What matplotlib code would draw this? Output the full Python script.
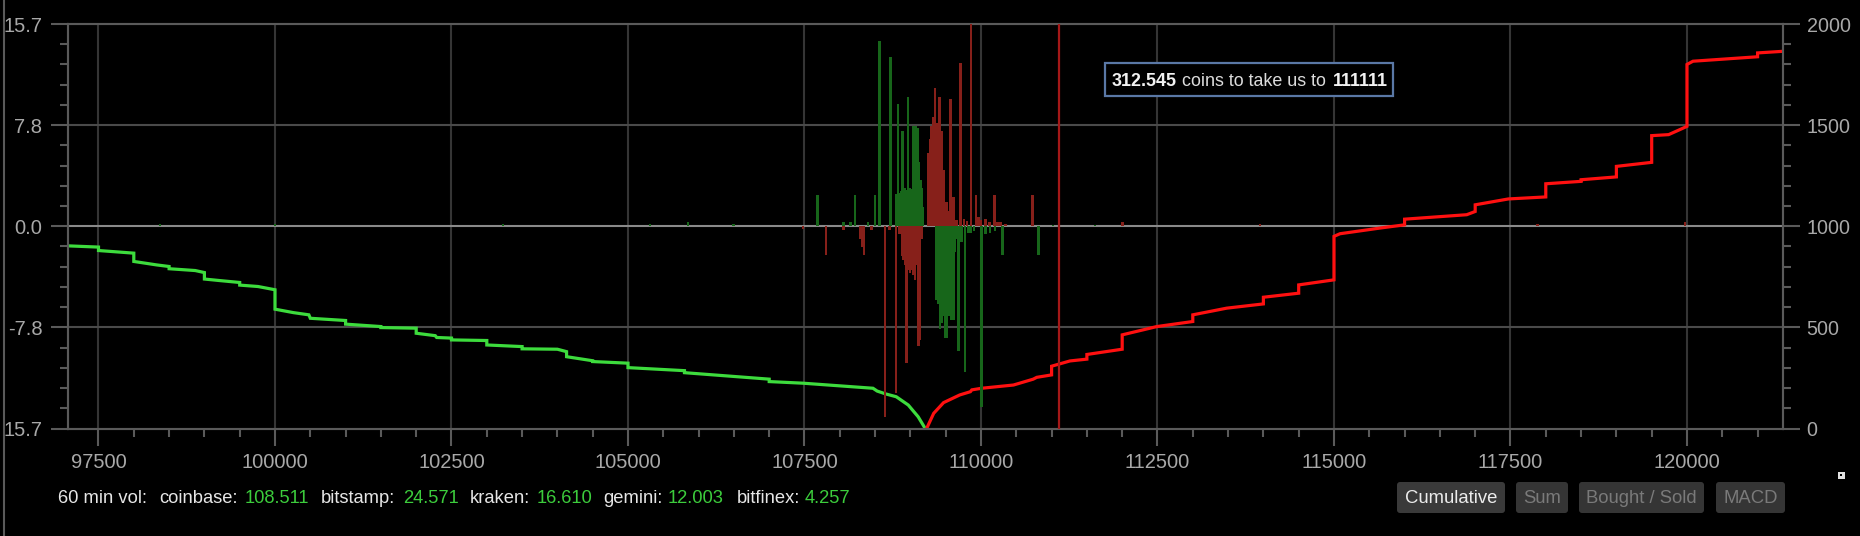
import matplotlib
matplotlib.use("Agg")
import numpy as np
import matplotlib.pyplot as plt
from matplotlib.patches import Rectangle, FancyBboxPatch
from matplotlib.lines import Line2D
from matplotlib.transforms import IdentityTransform

plt.rcParams['font.family'] = ['Liberation Sans', 'DejaVu Sans']

# cumulative order book depth (price, coins)
bid_price = [97070, 97500, 97500, 98000, 98000, 98320, 98500, 98500, 98870, 99000,
             99000, 99200, 99500, 99500, 99760, 100000, 100000, 100260, 100480, 100500,
             101000, 101000, 101500, 101500, 102000, 102000, 102270, 102290, 102500, 102500,
             103000, 103000, 103500, 103500, 104000, 104130, 104130, 104500, 104500, 105000,
             105000, 105800, 105800, 107000, 107000, 107480, 108470, 108530, 108650, 108800,
             108970, 109110, 109210]
bid_cum = [903, 897, 880, 867, 826, 809, 801, 790, 781, 771,
           739, 732, 722, 709, 702, 686, 590, 573, 562, 545,
           534, 516, 504, 499, 496, 471, 459, 450, 447, 438,
           435, 413, 405, 394, 392, 380, 355, 335, 331, 323,
           301, 286, 276, 244, 232, 224, 199, 185, 171, 157,
           116, 58, 0]

ask_price = [109230, 109330, 109470, 109700, 109850, 109870, 110010, 110460, 110740, 110790,
             111000, 111000, 111260, 111500, 111500, 112000, 112000, 112490, 113000, 113000,
             113480, 114000, 114000, 114500, 114500, 115000, 115000, 115085, 115650, 116000,
             116000, 116880, 117000, 117000, 117470, 118000, 118000, 118500, 118500, 119000,
             119000, 119500, 119500, 119740, 119900, 120000, 120000, 120085, 121000, 121000,
             121360]
ask_cum = [0, 75, 128, 166, 182, 191, 199, 215, 244, 253,
           265, 308, 334, 343, 366, 392, 463, 504, 529, 562,
           595, 616, 649, 669, 710, 735, 950, 963, 991, 1007,
           1035, 1057, 1073, 1106, 1135, 1145, 1210, 1222, 1230, 1244,
           1296, 1316, 1448, 1453, 1478, 1494, 1800, 1816, 1838, 1857,
           1865]

# order flow bars (price, coins); sign gives up / down
green_bar_price = [98370, 100000, 103230, 105310, 105850, 106490, 107681, 108050, 108150, 108215,
                   108400, 108499, 108560, 108721, 108800, 108825, 108850, 108875, 108890, 108915,
                   108940, 108966, 108990, 109015, 109040, 109060, 109080, 109100, 109120, 109140,
                   109160, 109180, 111020, 111615,
                   109372, 109395, 109419, 109443, 109466, 109490, 109514, 109537, 109561, 109585,
                   109608, 109630, 109655, 109679, 109720, 109773, 109820, 109860, 109900, 110010,
                   110060, 110127, 110200, 110307, 110812]
green_bar_value = [0.2, 0.2, 0.2, 0.2, 0.3, 0.2, 2.4, 0.3, 0.3, 2.4,
                   0.3, 2.4, 14.4, 13.1, 2.5, 9.5, 2.6, 2.7, 7.4, 3.0,
                   2.8, 10.0, 3.0, 2.9, 7.8, 7.8, 7.8, 7.6, 5.0, 3.6,
                   3.0, 1.5, 0.1, 0.1,
                   -5.7, -6.0, -8.0, -7.5, -7.0, -8.7, -8.7, -7.0, -7.0, -7.3,
                   -7.3, -2.0, -1.0, -9.7, -1.2, -11.3, -0.5, -0.5, -0.4, -14.0,
                   -0.6, -0.5, -0.4, -2.2, -2.2]

red_bar_price = [109250, 109280, 109300, 109320, 109348, 109380, 109410, 109443, 109476, 109514,
                 109540, 109570, 109608, 109650, 109712, 109760, 109800, 109858, 109929, 109960,
                 110000, 110060, 110120, 110188, 110230, 110280, 110350, 110732, 112000, 113950,
                 117880, 119970,
                 107480, 107805, 108050, 108290, 108320, 108345, 108450, 108640, 108700, 108796,
                 108850, 108880, 108900, 108925, 108947, 108970, 108995, 109018, 109040, 109065,
                 109090, 109112, 109136, 109160]
red_bar_value = [5.7, 6.8, 7.8, 8.5, 10.7, 8.0, 10.0, 7.4, 4.4, 1.9,
                 1.2, 9.9, 2.3, 0.5, 12.7, 0.6, 0.4, 15.7, 2.4, 0.7,
                 0.5, 0.6, 0.3, 2.4, 0.3, 0.3, 0.2, 2.4, 0.3, 0.2,
                 0.2, 0.3,
                 -0.2, -2.2, -0.3, -1.0, -1.6, -2.2, -0.3, -14.8, -0.3, -12.95,
                 -0.6, -2.3, -2.6, -3.0, -10.6, -3.4, -3.6, -3.4, -3.8, -4.2,
                 -3.0, -9.3, -8.8, -1.0]

target_price = 111111
coins_needed = 312.545

x_ticks = [97500, 100000, 102500, 105000, 107500, 110000, 112500, 115000, 117500, 120000]
left_ticks = [-15.7, -7.85, 0.0, 7.85, 15.7]
left_labels = ['15.7', '-7.8', '0.0', '7.8', '15.7']
right_ticks = [0, 500, 1000, 1500, 2000]

exchanges = ['coinbase', 'bitstamp', 'kraken', 'gemini', 'bitfinex']
vol_60 = [108.511, 24.571, 16.610, 12.003, 4.257]
buttons = ['Cumulative', 'Sum', 'Bought / Sold', 'MACD']

W, H = 1860, 536
fig = plt.figure(figsize=(W / 100, H / 100), dpi=100, facecolor='black')
ax = fig.add_axes([68 / W, 1 - 428.5 / H, (1783 - 68) / W, (428.5 - 24) / H])
ax2 = ax.twinx()
ax.set_zorder(3)
ax.patch.set_visible(False)
ax2.patch.set_visible(True)
ax2.patch.set_facecolor('black')

grid_c = '#353535'
spine_c = '#5a5a5a'
label_c = '#a8a8a8'

# lines on the lower axes
ax2.plot(bid_price, bid_cum, color='#3ddc3d', lw=2.3, solid_joinstyle='miter', zorder=4)
ax2.plot(ask_price, ask_cum, color='#ff1010', lw=2.3, solid_joinstyle='miter', zorder=4)
for xt in x_ticks:
    ax2.axvline(xt, color=grid_c, lw=1.5, zorder=1)
for yt in right_ticks[1:-1]:
    ax2.axhline(yt, color='#8a8a8a' if yt == 1000 else '#4a4a4a', lw=1.5, zorder=1)
ax2.set_ylim(0, 2000)

# bars on top
ax.bar(green_bar_price, green_bar_value, width=38, color='#17661a', linewidth=0, zorder=3)
ax.bar(red_bar_price, red_bar_value, width=38, color='#87201a', linewidth=0, zorder=3)
ax.axvline(target_price, color='#a51818', lw=1.6, zorder=4)

ax.set_xlim(97068, 121360)
ax.set_ylim(-15.7, 15.7)
ax.set_xticks(x_ticks)
ax.set_xticks(np.arange(97500, 121360, 500), minor=True)
ax.set_yticks(left_ticks)
ax.set_yticklabels(left_labels)
ax.set_yticks(np.linspace(-15.7, 15.7, 21), minor=True)
ax2.set_yticks(right_ticks)
ax2.set_yticks(np.arange(0, 2001, 100), minor=True)

for a in (ax, ax2):
    for s in a.spines.values():
        s.set_color(spine_c)
        s.set_linewidth(1.5)
ax.tick_params(axis='both', which='major', colors=spine_c, labelcolor=label_c,
               length=12, width=1.5, labelsize=14.5)
ax.tick_params(axis='both', which='minor', colors=spine_c, length=5.8, width=1.5)
ax.tick_params(axis='y', which='both', right=False, pad=6.5)
ax.tick_params(axis='x', which='major', pad=5.5)
ax2.tick_params(axis='y', which='major', colors=spine_c, labelcolor=label_c,
                length=12, width=1.5, labelsize=14.2, pad=5)
ax2.tick_params(axis='y', which='minor', colors=spine_c, length=5.8, width=1.5)

px = IdentityTransform()

def ptext(x, y, s, **kw):
    fig.text(x, H - y, s, transform=px, **kw)

# thin frame line at left edge
fig.add_artist(Line2D([4, 4], [0, H], transform=px, color=spine_c, lw=1.5))

# annotation box
fig.add_artist(Rectangle((1105, H - 96), 288, 33, transform=px, facecolor='black',
                         edgecolor='#5a78a6', lw=1.6, zorder=5))
ptext(1111.7, 86, f'{coins_needed:.3f}', color='#f2f2f2', fontsize=12.9,
      fontweight='bold', va='baseline', zorder=6)
ptext(1181.7, 86, 'coins to take us to', color='#dcdcdc', fontsize=12.9,
      va='baseline', zorder=6)
ptext(1332.7, 86, f'{target_price}', color='#f2f2f2', fontsize=12.9,
      fontweight='bold', va='baseline', zorder=6)

# 60 min volume line
label_x = [159.3, 320.7, 470, 603, 736.7]
value_x = [245, 402.7, 536.7, 668, 805]
ptext(58, 502.7, '60 min vol:', color='#e6e6e6', fontsize=13.2, va='baseline')
for name, v, lx, vx in zip(exchanges, vol_60, label_x, value_x):
    ptext(lx, 502.7, name + ':', color='#e6e6e6', fontsize=13.2, va='baseline')
    ptext(vx, 502.7, f'{v:.3f}', color='#3ccc3c', fontsize=13.2, va='baseline')

# buttons
btn_x = [(1397, 1505), (1516, 1568), (1579, 1704), (1716, 1785)]
for i, (name, (x0, x1)) in enumerate(zip(buttons, btn_x)):
    fig.add_artist(FancyBboxPatch((x0, H - 513), x1 - x0, 31, transform=px,
                                  boxstyle='round,pad=0,rounding_size=3',
                                  facecolor='#3a3a3a' if i == 0 else '#353535',
                                  edgecolor='none'))
    ptext((x0 + x1) / 2, 503.3, name, color='#ececec' if i == 0 else '#7a7a7a',
          fontsize=13.3, ha='center', va='baseline')

# small icon at right
fig.add_artist(Rectangle((1837.5, H - 478.5), 7, 7, transform=px, facecolor='#e0e0e0',
                         edgecolor='none'))
fig.add_artist(Rectangle((1839.8, H - 476.2), 2.4, 2.4, transform=px, facecolor='black',
                         edgecolor='none'))

fig.savefig('out.png', dpi=100, facecolor='black')
